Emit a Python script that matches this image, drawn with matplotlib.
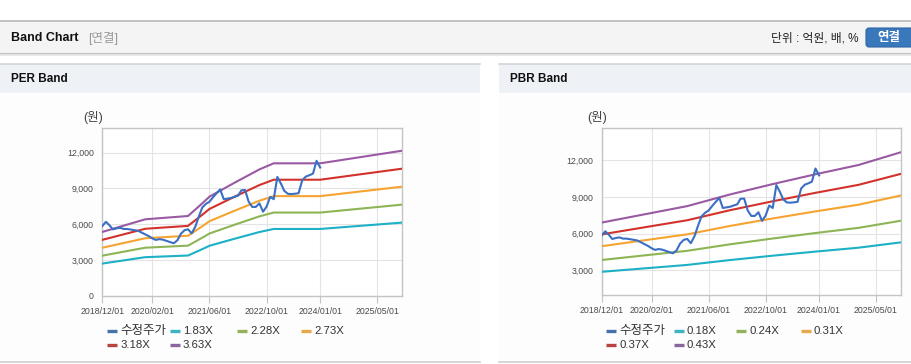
import matplotlib
matplotlib.use('Agg')
import matplotlib.pyplot as plt
import matplotlib.patches as patches
import matplotlib.ticker as mticker
import pandas as pd

plt.rcParams['font.family'] = ['Liberation Sans', 'Noto Sans CJK KR', 'DejaVu Sans']

# 수정주가 (월별, 2018/12 ~ 2024/01)
price_dates = pd.date_range('2018-12-01', periods=62, freq='MS')
price = [5850, 6200, 5900, 5570, 5650, 5700, 5600, 5600, 5550, 5500,
         5450, 5300, 5150, 5000, 4810, 4680, 4750, 4700, 4600, 4500,
         4400, 4650, 5200, 5500, 5570, 5230, 5800, 6600, 7400, 7700,
         7890, 8250, 8600, 8920, 8100, 8150, 8200, 8300, 8400, 8850,
         8870, 7900, 7450, 7450, 7750, 7050, 7470, 8300, 8100, 9970,
         9400, 8800, 8550, 8530, 8560, 8600, 9690, 10000, 10110, 10250,
         11320, 10760]

# PER 밴드 : EPS 추정치
eps_dates = pd.to_datetime(['2018-12-01', '2019-12-01', '2020-12-01', '2021-04-01',
                            '2021-06-01', '2022-01-01', '2022-08-01', '2022-12-01',
                            '2024-01-01', '2025-12-01'])
eps = [1474, 1766, 1843, 2135, 2289, 2612, 2920, 3061, 3061, 3353]
per_multiples = [1.83, 2.28, 2.73, 3.18, 3.63]

# PBR 밴드 : BPS 추정치
bps_dates = pd.to_datetime(['2018-12-01', '2020-12-01', '2021-12-01', '2022-12-01',
                            '2023-12-01', '2024-12-01', '2025-12-01'])
bps = [16070, 19190, 21400, 23370, 25230, 26980, 29420]
pbr_multiples = [0.18, 0.24, 0.31, 0.37, 0.43]

tick_dates = pd.to_datetime(['2018-12-01', '2020-02-01', '2021-06-01',
                             '2022-10-01', '2024-01-01', '2025-05-01'])
tick_labels = ['2018/12/01', '2020/02/01', '2021/06/01', '2022/10/01',
               '2024/01/01', '2025/05/01']

PRICE_COLOR = '#3b6fc4'
BAND_COLORS = ['#1db0c6', '#8db556', '#f5a431', '#d3312b', '#9a59a3']
LEGEND_COLORS = ['#4572a7', '#3fb3c2', '#93b35a', '#e7a84a', '#b94341', '#8a66a0']

fig = plt.figure(figsize=(9.12, 3.64), dpi=100)

# 배경 (픽셀 좌표)
bg = fig.add_axes([0, 0, 1, 1])
bg.set_xlim(0, 912)
bg.set_ylim(364, 0)
bg.axis('off')

bg.add_patch(patches.Rectangle((0, 21), 912, 32, facecolor='#f4f4f4', edgecolor='none'))
bg.plot([0, 912], [21, 21], color='#b8b8b8', lw=1.2)
bg.plot([0, 912], [53.5, 53.5], color='#c4c4c4', lw=1.5)
bg.plot([0, 912], [55, 55], color='#e6e6e6', lw=1.2)
bg.text(11, 38, 'Band Chart', fontsize=9, fontweight='bold', va='center', color='#111')
bg.text(88, 38.5, '[연결]', fontsize=9, va='center', color='#999999')
bg.text(859, 38.5, '단위 : 억원, 배, %', fontsize=8.5, va='center', ha='right', color='#222')
bg.add_patch(patches.FancyBboxPatch((866, 28), 50, 19, boxstyle='round,pad=0,rounding_size=3',
                                    facecolor='#3a78bc', edgecolor='#2e66a6', lw=0.8))
bg.text(889, 37.5, '연결', fontsize=9, fontweight='bold', color='white', ha='center', va='center')

for x0, x1, title in [(0, 480, 'PER Band'), (499, 912, 'PBR Band')]:
    bg.add_patch(patches.Rectangle((x0, 64), x1 - x0, 29, facecolor='#eef1f6', edgecolor='none'))
    bg.add_patch(patches.Rectangle((x0, 93), x1 - x0, 269, facecolor='#fdfdfd', edgecolor='none'))
    bg.plot([x0, x1], [64, 64], color='#d4d4d4', lw=1.2)
    bg.plot([x0, x1], [362, 362], color='#d0d0d0', lw=1.2)
    bg.text(x0 + 11, 79, title, fontsize=8.5, fontweight='bold', va='center', color='#111')


def draw_band(rect, band_dates, base, multiples, yticks, ylim, legend_x, unit_x):
    ax = fig.add_axes(rect)
    ax.set_facecolor('white')
    ax.plot(price_dates, price, color=PRICE_COLOR, lw=1.5, zorder=5)
    for m, c in zip(multiples, BAND_COLORS):
        ax.plot(band_dates, [m * v for v in base], color=c, lw=1.5, zorder=4)
    ax.set_xlim(pd.Timestamp('2018-12-01'), pd.Timestamp('2025-12-01'))
    ax.set_ylim(*ylim)
    ax.set_xticks(tick_dates)
    ax.set_xticklabels(tick_labels)
    ax.set_yticks(yticks)
    ax.yaxis.set_major_formatter(mticker.FuncFormatter(lambda v, p: f'{int(v):,}'))
    ax.grid(True, color='#e4e4e4', lw=0.8)
    for s in ax.spines.values():
        s.set_color('#c4c4c4')
        s.set_linewidth(1)
    ax.tick_params(axis='x', length=5, color='#c4c4c4', labelsize=6.3, labelcolor='#4a4a4a', pad=3)
    ax.tick_params(axis='y', length=0, labelsize=6.3, labelcolor='#4a4a4a', pad=6)

    bg.text(unit_x, 117, '(원)', fontsize=9, ha='center', va='center', color='#444444')

    names = ['수정주가'] + [f'{m:.2f}X' for m in multiples]
    for i, name in enumerate(names):
        lx = legend_x[i % 4]
        ly = 331 if i < 4 else 344.5
        bg.plot([lx, lx + 10], [ly, ly], color=LEGEND_COLORS[i], lw=2.4, solid_capstyle='butt')
        size = 9 if i == 0 else 8.2
        bg.text(lx + 13, ly, name, fontsize=size, va='center', color='#333333')
    return ax


draw_band([102.3 / 912, 68.3 / 364, 300 / 912, 167.4 / 364], eps_dates, eps, per_multiples,
          [0, 3000, 6000, 9000, 12000], (0, 14050), [107.5, 170, 237.5, 301.5], 93)
draw_band([601.7 / 912, 69 / 364, 299.3 / 912, 166.7 / 364], bps_dates, bps, pbr_multiples,
          [3000, 6000, 9000, 12000], (1000, 14600), [606.5, 674, 736.5, 801], 597)

fig.savefig('out.png', dpi=100)
